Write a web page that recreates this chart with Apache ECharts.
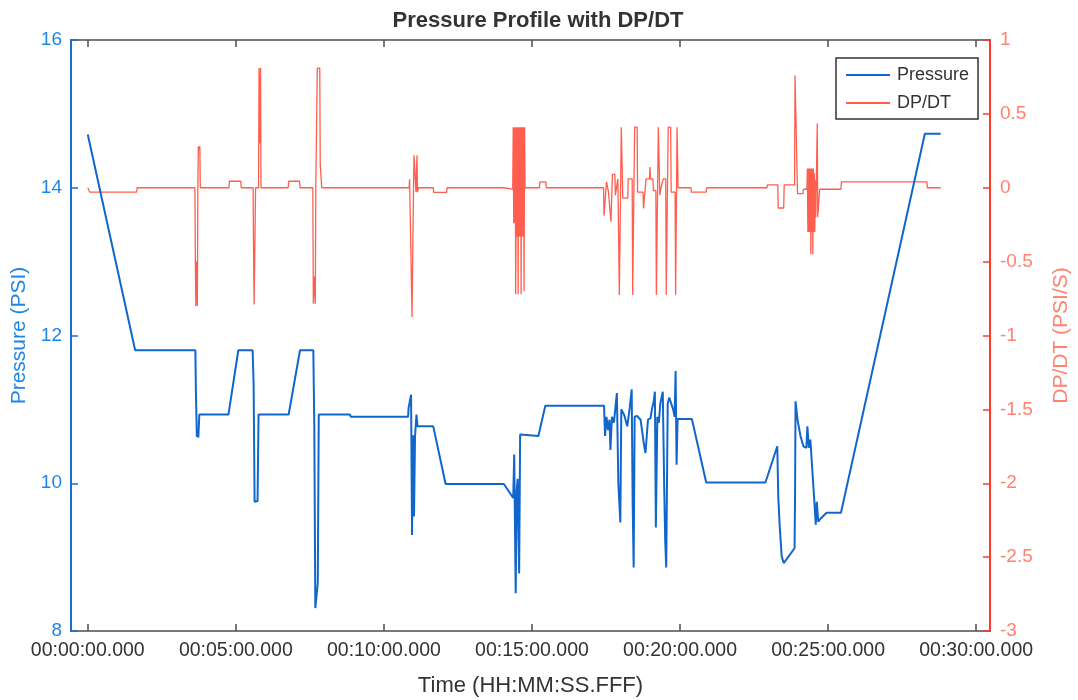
<!DOCTYPE html>
<html>
<head>
<meta charset="utf-8">
<title>Pressure Profile with DP/DT</title>
<script src="https://cdn.jsdelivr.net/npm/echarts@6/dist/echarts.min.js"></script>
<style>
  html, body { margin: 0; padding: 0; background: #ffffff; }
  #chart { width: 1078px; height: 700px; }
</style>
</head>
<body>
<div id="chart"></div>
<script>
// Elapsed time in seconds for each pressure sample
const pressureTime = [
  0, 96, 218, 219, 221, 222, 224, 226, 285, 305, 334, 336, 338, 340, 342, 344, 346,
  407, 430, 457, 458, 459, 461, 464, 466, 468, 531, 533, 649, 650, 654, 655, 657,
  659, 661, 663, 666, 668, 700, 725, 843, 862, 864, 867, 869, 871, 874, 876, 878,
  913, 927, 1046, 1048, 1051, 1054, 1057, 1059, 1062, 1066, 1072, 1075, 1079, 1081,
  1087, 1093, 1098, 1102, 1104, 1106, 1108, 1113, 1120, 1127, 1130, 1135, 1140,
  1143, 1147, 1149, 1151, 1154, 1157, 1160, 1165, 1168, 1170, 1172, 1175, 1178,
  1182, 1186, 1189, 1191, 1193, 1195, 1224, 1253, 1373, 1397, 1399, 1402, 1406,
  1410, 1432, 1433, 1434, 1438, 1444, 1450, 1456, 1458, 1461, 1464, 1468, 1471,
  1475, 1477, 1480, 1486, 1497, 1526, 1696, 1728
];
// Pressure (PSI)
const pressureValue = [
  14.72, 11.80, 11.80, 11.27, 10.63, 10.66, 10.62, 10.93, 10.93, 11.80, 11.80, 11.34,
  9.75, 9.76, 9.75, 9.76, 10.93,
  10.93, 11.80, 11.80, 11.27, 10.75, 8.31, 8.31, 8.65, 10.93, 10.93, 10.90, 10.90,
  11.02, 11.02, 11.20, 9.30,
  10.65, 9.55, 10.63, 10.93, 10.77, 10.77, 9.99, 9.99, 9.80, 10.39, 8.51, 9.90, 10.06,
  8.78, 10.66, 10.65,
  10.64, 11.05, 11.05, 10.64, 10.90, 10.72, 10.86, 10.45, 10.90, 10.82, 11.22, 10.00,
  9.47, 11.00,
  10.92, 10.77, 11.02, 11.27, 9.73, 8.86, 10.90, 10.91, 10.86, 10.52, 10.41, 10.86,
  10.88,
  11.00, 11.12, 11.24, 9.40, 10.90, 10.82, 11.08, 11.24, 9.92, 9.21, 8.86, 11.08,
  11.16,
  11.14, 11.00, 10.90, 11.52, 10.25, 10.87, 10.87, 10.01, 10.01, 10.50, 9.82, 9.41,
  9.01,
  8.92, 9.12, 9.80, 11.11, 10.86, 10.64, 10.50, 10.48, 10.77, 10.48, 10.59, 10.18,
  9.87,
  9.44, 9.75, 9.48, 9.53, 9.60, 9.60, 14.73, 14.73
];

// Elapsed time in seconds for each DP/DT sample
const dpdtTime = [
  0, 3, 4, 99, 100, 217, 218, 219, 220, 222, 223, 224, 226, 227, 228,
  286, 287, 310, 311, 335, 336, 337, 339, 340, 346, 347, 349, 350, 351,
  406, 407, 429, 430, 456, 457, 459, 461, 462, 464, 465, 470, 471, 473, 474,
  651, 652, 656, 657, 658, 660, 661, 664, 665, 667, 668, 670,
  700, 701, 727, 728, 843, 844, 861,
  862, 863, 864, 865, 866, 867, 868, 869, 870, 871, 872, 873, 874, 875, 876, 877,
  878, 879, 880, 881, 882, 883, 884, 885, 886,
  915, 916, 928, 929,
  1045, 1046, 1050, 1051, 1054, 1055, 1059, 1060, 1062, 1063, 1068, 1069, 1073,
  1074, 1076, 1077, 1079, 1081, 1083, 1084, 1094, 1095, 1103, 1104, 1106, 1108,
  1113, 1114, 1125, 1126, 1130, 1131, 1138, 1139, 1140, 1145, 1146, 1151, 1152,
  1154, 1156, 1158, 1159, 1162, 1166, 1171, 1172, 1174, 1176, 1181, 1182, 1190,
  1191, 1193, 1194, 1195, 1196,
  1222, 1223, 1253, 1254,
  1376, 1377, 1398, 1399, 1410, 1411, 1432, 1433, 1436, 1437, 1438, 1449, 1450,
  1457, 1458, 1459, 1460, 1461, 1462, 1463, 1464, 1465, 1466, 1467, 1468, 1469,
  1470, 1471, 1472, 1473, 1474, 1475, 1476, 1478, 1479, 1482, 1483, 1526, 1527,
  1700, 1701, 1728
];
// Rate of pressure change (PSI/S)
const dpdtValue = [
  0, 0, -0.03, -0.03, 0, 0, -0.50, -0.80, -0.50, -0.80, 0, 0.28, 0.26, 0.28, 0,
  0, 0.044, 0.044, 0, 0, -0.46, -0.79, -0.79, 0, 0, 0.81, 0.30, 0.81, 0,
  0, 0.044, 0.044, 0, 0, -0.785, -0.60, -0.785, 0, 0, 0.81, 0.81, 0.16, 0.16, 0,
  0, 0.057, 0.057, -0.875, -0.56, 0, 0.22, 0.22, -0.03, 0.22, -0.03, 0,
  0, -0.031, -0.031, 0, 0, -0.01, -0.01,
  0.41, -0.24, 0.41, -0.24, 0.41, -0.72, -0.72, 0.41, -0.33, 0.41, -0.72, 0.41,
  -0.33, 0.41, -0.33, 0.41,
  -0.72, 0.41, -0.33, 0.41, -0.33, 0.41, -0.70, 0.41, 0,
  0, 0.04, 0.04, 0,
  0, -0.19, -0.19, 0.04, 0.04, -0.03, -0.03, -0.23, -0.23, 0.09, 0.09, -0.05, -0.05,
  0.06, 0.06, -0.725, -0.725, 0.41, 0.41, -0.07, -0.07, 0.06, 0.06, -0.725, -0.725,
  0.41,
  0.41, -0.03, -0.03, -0.14, -0.14, 0.06, 0.06, 0.14, 0.06, 0.06, -0.02, -0.02,
  -0.725,
  -0.725, 0.41, 0.41, -0.05, 0.01, 0.06, 0.06, -0.725, -0.725, 0.41, 0.41, -0.03,
  -0.03,
  -0.725, -0.725, 0.41, 0.41, 0,
  0, -0.03, -0.03, 0,
  0, 0.02, 0.02, -0.137, -0.137, 0.02, 0.02, 0.76, 0.76, 0.76, -0.04, -0.04, -0.01,
  -0.01, 0.13, -0.30, 0.13, -0.30, 0.13, -0.30, 0.13, -0.45, 0.13, -0.30, 0.13,
  -0.45,
  0.13, -0.30, 0.10, -0.30, 0.05, -0.20, -0.20, 0.435, -0.20, -0.20, -0.01, -0.01,
  0.04,
  0.04, 0, 0
];

// Tick positions on the time axis (seconds) and the two value axes
const timeTicks = [0, 300, 600, 900, 1200, 1500, 1800];
const pressureRange = [8, 16];
const dpdtRange = [-3, 1];

const pad = n => String(n).padStart(2, '0');
function formatClock(sec) {
  const s = Math.round(sec);
  const h = Math.floor(s / 3600);
  const m = Math.floor((s % 3600) / 60);
  return pad(h) + ':' + pad(m) + ':' + pad(s % 60) + '.000';
}

const zip = (xs, ys) => xs.map((x, i) => [x, ys[i]]);

const FONT = '"Liberation Sans", Arial, Helvetica, sans-serif';
const BLUE = '#1166cc';
const BLUE_AXIS = '#1a6fd6';
const BLUE_TEXT = '#1f86e6';
const RED_LINE = '#ff5e4e';
const RED_AXIS = '#ff3a2a';
const RED_TEXT = '#ff8270';
const GRAY = '#4d4d4d';

const chart = echarts.init(document.getElementById('chart'), null, { renderer: 'canvas' });

chart.setOption({
  animation: false,
  backgroundColor: '#ffffff',
  textStyle: { fontFamily: FONT },
  title: {
    text: 'Pressure Profile with DP/DT',
    left: 533,
    textAlign: 'center',
    top: 5,
    textStyle: { fontFamily: FONT, fontSize: 22, fontWeight: 'bold', color: '#333333' }
  },
  legend: {
    orient: 'vertical',
    left: 836,
    top: 58,
    padding: [8, 9, 7, 10],
    itemGap: 10,
    itemWidth: 44,
    itemHeight: 2,
    backgroundColor: '#ffffff',
    borderColor: '#333333',
    borderWidth: 1.5,
    borderRadius: 0,
    textStyle: { fontFamily: FONT, fontSize: 18, color: '#333333', padding: [0, 0, 0, 2] },
    data: [
      { name: 'Pressure', icon: 'rect' },
      { name: 'DP/DT', icon: 'rect' }
    ]
  },
  grid: { left: 71, right: 88, top: 40, bottom: 69, containLabel: false, outerBoundsMode: 'none' },
  xAxis: [
    {
      type: 'value',
      position: 'bottom',
      min: -34,
      max: 1828,
      name: 'Time (HH:MM:SS.FFF)',
      nameLocation: 'middle',
      nameGap: 44,
      nameTextStyle: { fontFamily: FONT, fontSize: 22, color: '#333333' },
      axisLine: { show: true, onZero: false, lineStyle: { color: GRAY, width: 1.5 } },
      axisTick: { show: true, inside: true, length: 7, customValues: timeTicks,
                  lineStyle: { color: GRAY, width: 1.5 } },
      axisLabel: { show: true, customValues: timeTicks, margin: 10,
                   fontFamily: FONT, fontSize: 19.5, color: '#333333',
                   formatter: v => formatClock(v) },
      splitLine: { show: false }
    },
    {
      type: 'value',
      position: 'top',
      min: -34,
      max: 1828,
      axisLine: { show: true, onZero: false, lineStyle: { color: GRAY, width: 1.5 } },
      axisTick: { show: true, inside: true, length: 7, customValues: timeTicks,
                  lineStyle: { color: GRAY, width: 1.5 } },
      axisLabel: { show: false },
      splitLine: { show: false }
    }
  ],
  yAxis: [
    {
      type: 'value',
      position: 'left',
      min: pressureRange[0],
      max: pressureRange[1],
      interval: 2,
      name: 'Pressure (PSI)',
      nameLocation: 'middle',
      nameRotate: 90,
      nameGap: 35,
      nameTextStyle: { fontFamily: FONT, fontSize: 21, color: BLUE_TEXT },
      axisLine: { show: true, onZero: false, lineStyle: { color: BLUE_AXIS, width: 2 } },
      axisTick: { show: true, inside: true, length: 7, lineStyle: { color: BLUE_AXIS, width: 1.5 } },
      axisLabel: { margin: 9, fontFamily: FONT, fontSize: 19, color: BLUE_TEXT },
      splitLine: { show: false }
    },
    {
      type: 'value',
      position: 'right',
      min: dpdtRange[0],
      max: dpdtRange[1],
      interval: 0.5,
      name: 'DP/DT (PSI/S)',
      nameLocation: 'middle',
      nameRotate: 90,
      nameGap: 61,
      nameTextStyle: { fontFamily: FONT, fontSize: 21, color: RED_TEXT },
      axisLine: { show: true, onZero: false, lineStyle: { color: RED_AXIS, width: 2 } },
      axisTick: { show: true, inside: true, length: 7, lineStyle: { color: RED_AXIS, width: 1.5 } },
      axisLabel: { margin: 10, fontFamily: FONT, fontSize: 19, color: RED_TEXT },
      splitLine: { show: false }
    }
  ],
  series: [
    {
      name: 'Pressure',
      type: 'line',
      xAxisIndex: 0,
      yAxisIndex: 0,
      data: zip(pressureTime, pressureValue),
      symbol: 'none',
      showSymbol: false,
      sampling: null,
      lineStyle: { color: BLUE, width: 2 },
      itemStyle: { color: BLUE },
      z: 3
    },
    {
      name: 'DP/DT',
      type: 'line',
      xAxisIndex: 0,
      yAxisIndex: 1,
      data: zip(dpdtTime, dpdtValue),
      symbol: 'none',
      showSymbol: false,
      sampling: null,
      lineStyle: { color: RED_LINE, width: 1.3 },
      itemStyle: { color: RED_LINE },
      z: 2
    }
  ]
});
</script>
</body>
</html>
